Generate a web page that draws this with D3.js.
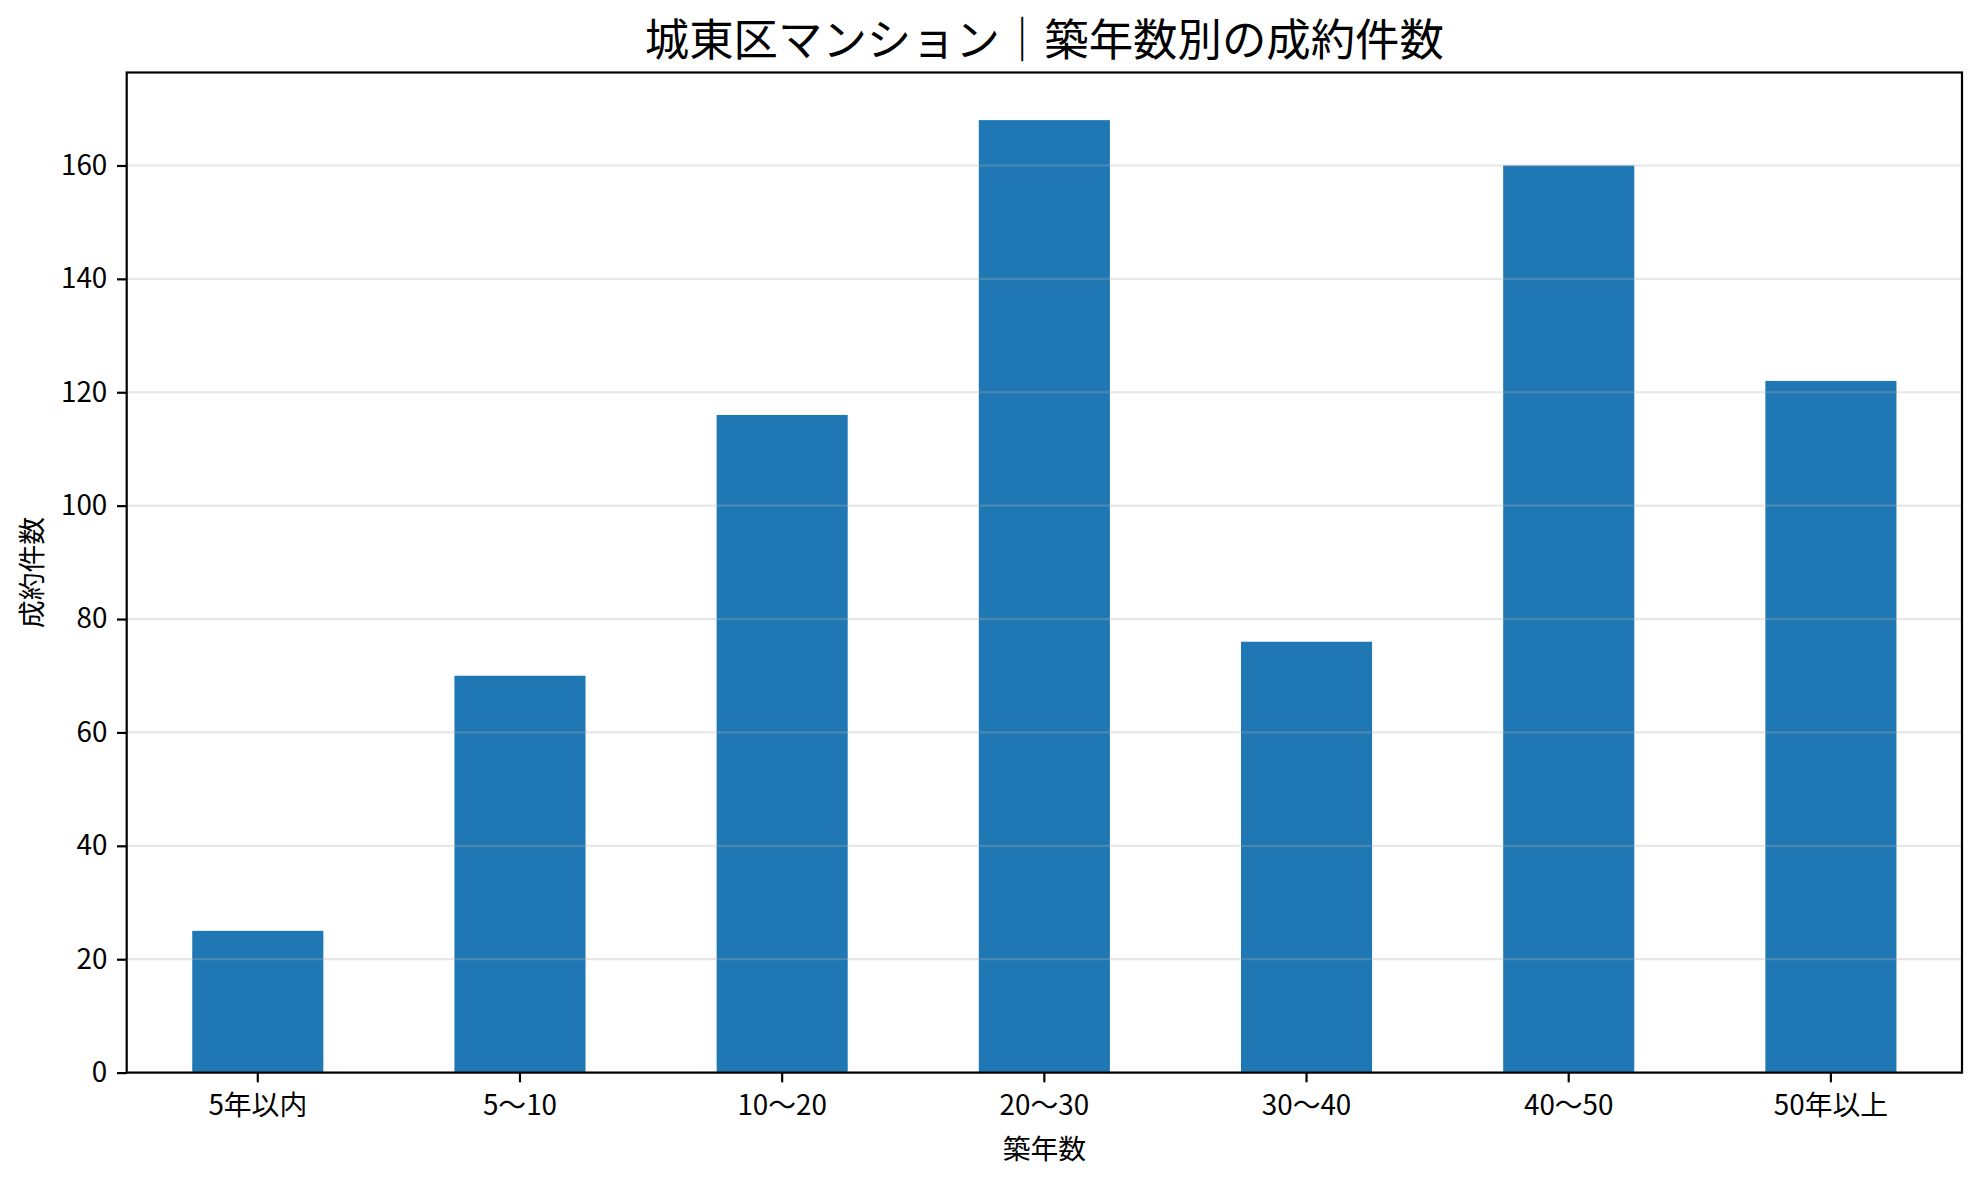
<!DOCTYPE html>
<html lang="ja">
<head>
    <meta charset="UTF-8">
    <title>城東区マンション｜築年数別の成約件数</title>
    <script src="https://d3js.org/d3.v7.min.js"></script>
    <style>
        body { margin: 0; background: #fff; }
        svg text { font-family: "Noto Sans CJK JP", "Noto Sans", sans-serif; fill: #000; }
    </style>
</head>
<body>
    <svg id="chart"></svg>

    <script>
        // chart data
        const categories = ["5年以内", "5～10", "10～20", "20～30", "30～40", "40～50", "50年以上"];
        const counts = [25, 70, 116, 168, 76, 160, 122];
        const yTicks = [0, 20, 40, 60, 80, 100, 120, 140, 160];

        const titleText = "城東区マンション｜築年数別の成約件数";
        const xLabel = "築年数";
        const yLabel = "成約件数";

        const width = 1981;
        const height = 1184;
        const margin = { top: 72.5, right: 19, bottom: 111.4, left: 126.7 };
        const innerW = width - margin.left - margin.right;
        const innerH = height - margin.top - margin.bottom;

        const svg = d3.select("#chart")
            .attr("width", width)
            .attr("height", height);

        const g = svg.append("g")
            .attr("transform", "translate(" + margin.left + "," + margin.top + ")");

        // band scale matching matplotlib's -0.5 .. n-0.5 range, bar width 0.5
        const xScale = d3.scaleBand()
            .domain(categories)
            .range([0, innerW])
            .paddingInner(0.5)
            .paddingOuter(0.25);

        const yMax = d3.max(counts) * 1.05;
        const yScale = d3.scaleLinear()
            .domain([0, yMax])
            .range([innerH, 0]);

        // bars
        g.selectAll(".bar")
            .data(counts)
            .enter().append("rect")
            .attr("class", "bar")
            .attr("x", (d, i) => xScale(categories[i]))
            .attr("y", d => yScale(d))
            .attr("width", xScale.bandwidth())
            .attr("height", d => innerH - yScale(d))
            .attr("fill", "#1f77b4");

        // horizontal grid on top of the bars
        g.append("g")
            .selectAll("line")
            .data(yTicks)
            .enter().append("line")
            .attr("x1", 0)
            .attr("x2", innerW)
            .attr("y1", d => yScale(d))
            .attr("y2", d => yScale(d))
            .attr("stroke", "#b0b0b0")
            .attr("stroke-opacity", 0.3)
            .attr("stroke-width", 2.2);

        // axes
        const xAxis = g.append("g")
            .attr("transform", "translate(0," + innerH + ")")
            .call(d3.axisBottom(xScale).tickSize(9.7).tickPadding(12.5).tickSizeOuter(0));

        const yAxis = g.append("g")
            .call(d3.axisLeft(yScale).tickValues(yTicks).tickSize(9.7).tickPadding(9.7).tickSizeOuter(0));

        [xAxis, yAxis].forEach(a => {
            a.select(".domain").remove();
            a.selectAll(".tick line").attr("stroke", "#000").attr("stroke-width", 2.2);
            a.selectAll(".tick text")
                .attr("font-size", 27.8)
                .attr("font-family", "'Noto Sans CJK JP', sans-serif")
                .attr("fill", "#000");
        });

        // frame (spines)
        g.append("rect")
            .attr("x", 0)
            .attr("y", 0)
            .attr("width", innerW)
            .attr("height", innerH)
            .attr("fill", "none")
            .attr("stroke", "#000")
            .attr("stroke-width", 2.2);

        // title
        svg.append("text")
            .attr("x", margin.left + innerW / 2)
            .attr("y", 56)
            .attr("text-anchor", "middle")
            .attr("font-size", 44.4)
            .text(titleText);

        // axis labels
        svg.append("text")
            .attr("x", margin.left + innerW / 2)
            .attr("y", 1158.5)
            .attr("text-anchor", "middle")
            .attr("font-size", 27.8)
            .text(xLabel);

        svg.append("text")
            .attr("transform", "rotate(-90)")
            .attr("x", -(margin.top + innerH / 2))
            .attr("y", 42)
            .attr("text-anchor", "middle")
            .attr("font-size", 27.8)
            .text(yLabel);
    </script>
</body>
</html>
